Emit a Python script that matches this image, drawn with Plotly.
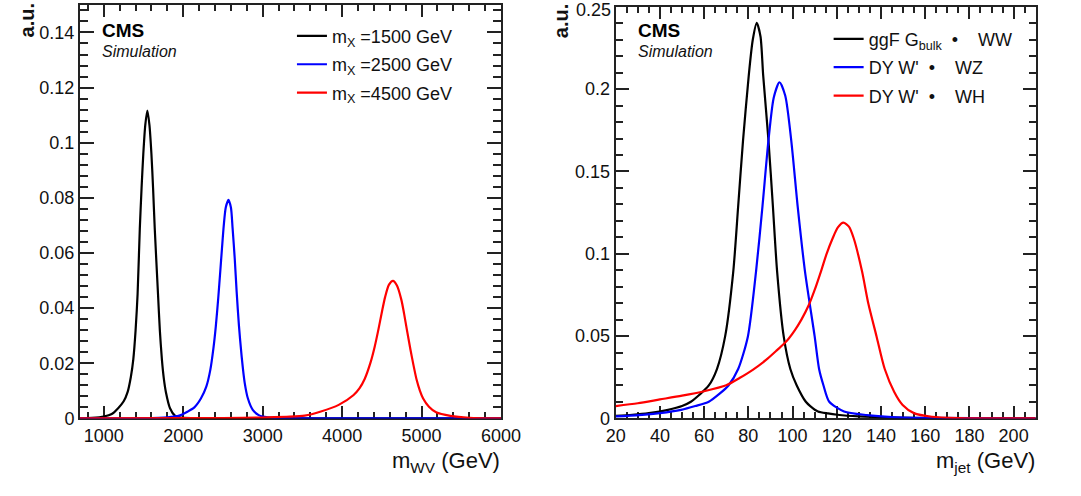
import plotly.graph_objects as go

# ---------------- Left panel: m_WV (GeV) ----------------
mwv_1500_x = [700, 850, 1000, 1100, 1180, 1250, 1300, 1340, 1371, 1400, 1425, 1453, 1475, 1497, 1522,
              1548, 1574, 1599, 1620, 1641, 1682, 1705, 1731, 1755, 1781, 1833, 1895, 1950, 2100, 2400, 6000]
mwv_1500_y = [0.0, 0.0002, 0.0007, 0.0016, 0.0037, 0.0062, 0.0096, 0.0150, 0.0214, 0.0320, 0.0451, 0.0689,
              0.0835, 0.0960, 0.1065, 0.1117, 0.1065, 0.0960, 0.0835, 0.0689, 0.0451, 0.0320, 0.0214,
              0.0145, 0.0096, 0.0037, 0.0010, 0.0004, 0.0001, 0.0, 0.0]

mwv_2500_x = [700, 1500, 1800, 1950, 2058, 2140, 2222, 2290, 2340, 2380, 2410, 2440, 2465, 2487, 2510, 2535,
              2569, 2600, 2621, 2648, 2672, 2700, 2735, 2773, 2814, 2875, 2950, 3000, 3150, 3400, 6000]
mwv_2500_y = [0.0, 0.0001, 0.0004, 0.0010, 0.0025, 0.0040, 0.0072, 0.0115, 0.0175, 0.0255, 0.0335, 0.0435,
              0.0530, 0.0615, 0.0700, 0.0765, 0.0793, 0.0765, 0.0690, 0.0580, 0.0460, 0.0340, 0.0225,
              0.0130, 0.0072, 0.0031, 0.0012, 0.0007, 0.0002, 0.0, 0.0]

mwv_4500_x = [700, 2000, 2500, 3000, 3300, 3529, 3733, 3957, 4141, 4220, 4284, 4358, 4410, 4456, 4500, 4541,
              4590, 4640, 4690, 4746, 4780, 4815, 4860, 4897, 4938, 4980, 5020, 5093, 5183, 5363, 5600, 6000]
mwv_4500_y = [0.0, 0.0001, 0.0001, 0.0003, 0.0006, 0.0010, 0.0025, 0.0049, 0.0084, 0.0110, 0.0143, 0.0203,
              0.0260, 0.0321, 0.0385, 0.0440, 0.0485, 0.0499, 0.0482, 0.0430, 0.0380, 0.0322, 0.0250,
              0.0195, 0.0140, 0.0100, 0.0072, 0.0042, 0.0022, 0.0009, 0.0002, 0.0]

# ---------------- Right panel: m_jet (GeV) ----------------
mjet_ww_x = [20, 27.5, 35, 43.7, 50, 54, 58, 62.1, 65.8, 69.5, 73.2, 75.4, 77.6, 80.2, 82, 83.8, 85.5, 86.7,
             89.1, 91.1, 93, 96, 99, 101.9, 106, 108, 111.5, 116, 120.3, 130, 145, 160, 210]
mjet_ww_y = [0.0016, 0.0022, 0.0032, 0.0052, 0.0075, 0.0101, 0.0145, 0.0200, 0.0300, 0.0498, 0.0895, 0.1290,
             0.1689, 0.2085, 0.2300, 0.2403, 0.2320, 0.2085, 0.1689, 0.1290, 0.0895, 0.0498, 0.0300,
             0.0200, 0.0101, 0.0075, 0.0042, 0.0030, 0.0022, 0.0012, 0.0005, 0.0002, 0.0]

mjet_wz_x = [20, 30.5, 40, 49.6, 56, 62.1, 67, 71, 75.4, 79.8, 83.5, 86.4, 89.1, 91.5, 94.1, 96.7, 99.4,
             102.3, 105.6, 110, 112, 114, 116.6, 123.3, 133.6, 145, 160, 210]
mjet_wz_y = [0.0012, 0.0020, 0.0032, 0.0052, 0.0075, 0.0101, 0.0150, 0.0200, 0.0300, 0.0498, 0.0895, 0.1290,
             0.1689, 0.1950, 0.2042, 0.1960, 0.1689, 0.1290, 0.0895, 0.0498, 0.0300, 0.0200, 0.0101,
             0.0042, 0.0020, 0.0008, 0.0003, 0.0]

mjet_wh_x = [20, 30, 40, 50, 60, 70, 76, 82, 88, 93, 97, 101, 104, 107.4, 110, 112.9, 115.4, 118.1, 120.5,
             123, 125.5, 127.7, 131.4, 134.3, 138, 141.7, 146, 149.8, 154.9, 163, 175, 210]
mjet_wh_y = [0.0075, 0.0092, 0.0115, 0.0138, 0.0165, 0.0201, 0.0245, 0.0295, 0.0355, 0.0415, 0.0465, 0.0535,
             0.0600, 0.0690, 0.0780, 0.0895, 0.1000, 0.1093, 0.1160, 0.1189, 0.1165, 0.1093, 0.0895,
             0.0696, 0.0498, 0.0300, 0.0161, 0.0082, 0.0032, 0.0010, 0.0002, 0.0]

# right-panel y tick values/labels (the top label sits at the page edge, drawn as annotation)
mjet_yticks = [0, 0.05, 0.1, 0.15, 0.2, 0.25]
mjet_yticklabels = ["0", "0.05", "0.1", "0.15", "0.2", "0.25"]

left_names = ["m<sub>X</sub> =1500 GeV", "m<sub>X</sub> =2500 GeV", "m<sub>X</sub> =4500 GeV"]
right_names = ["ggF G<sub>bulk</sub>\u00a0\u00a0•\u00a0\u00a0\u00a0\u00a0WW",
               "DY W'\u00a0\u00a0•\u00a0\u00a0\u00a0\u00a0WZ",
               "DY W'\u00a0\u00a0•\u00a0\u00a0\u00a0\u00a0WH"]
colors = ["#000000", "#0000ff", "#ff0000"]

FONT = "Liberation Sans, Arial, Helvetica, sans-serif"
W, H = 1081, 496

fig = go.Figure()
left_series = [(mwv_1500_x, mwv_1500_y), (mwv_2500_x, mwv_2500_y), (mwv_4500_x, mwv_4500_y)]
right_series = [(mjet_ww_x, mjet_ww_y), (mjet_wz_x, mjet_wz_y), (mjet_wh_x, mjet_wh_y)]
for (xs, ys), name, c in zip(left_series, left_names, colors):
    fig.add_trace(go.Scatter(x=xs, y=ys, mode="lines", name=name, xaxis="x", yaxis="y",
                             line=dict(color=c, width=2.2, shape="spline", smoothing=0.7),
                             legend="legend", legendgroup=name))
for (xs, ys), name, c in zip(right_series, right_names, colors):
    fig.add_trace(go.Scatter(x=xs, y=ys, mode="lines", name=name, xaxis="x2", yaxis="y2",
                             line=dict(color=c, width=2.2, shape="spline", smoothing=0.7),
                             legend="legend2", legendgroup=name))


def px_x(p):
    return p / W


def px_y(p):
    return 1 - p / H


def axis(domain, rng, dtick, minor_dtick, ticklen, minor_len, anchor):
    return dict(domain=domain, range=rng, dtick=dtick, tick0=0, showgrid=False, zeroline=False,
                showline=True, linecolor="#222222", linewidth=2, mirror="ticks", ticks="inside",
                ticklen=ticklen, tickwidth=1.5, tickcolor="#222222", anchor=anchor,
                layer="below traces",
                tickfont=dict(family=FONT, size=18, color="#111111"),
                minor=dict(dtick=minor_dtick, ticks="inside", ticklen=minor_len, tickwidth=1.5,
                           tickcolor="#222222", showgrid=False))


yaxis2 = axis([px_y(427), px_y(7)], [0, 0.25], 0.05, 0.01, 13, 7, "x2")
yaxis2.update(tickmode="array", tickvals=mjet_yticks,
              ticktext=mjet_yticklabels[:-1] + [""])

fig.update_layout(
    width=W, height=H, margin=dict(l=0, r=0, t=0, b=0),
    paper_bgcolor="white", plot_bgcolor="white",
    font=dict(family=FONT, size=18, color="#111111"),
    xaxis=axis([px_x(72), px_x(505)], [700, 6000], 1000, 200, 12, 6, "y"),
    yaxis=axis([px_y(427), px_y(5)], [0, 0.15], 0.02, 0.004, 14, 8, "x"),
    xaxis2=axis([px_x(623), px_x(1055)], [20, 210], 20, 5, 12, 6, "y2"),
    yaxis2=yaxis2,
    legend=dict(x=px_x(290), y=px_y(18), xanchor="left", yanchor="top",
                bgcolor="rgba(0,0,0,0)", font=dict(family=FONT, size=18, color="#111111"),
                tracegroupgap=2, itemwidth=30),
    legend2=dict(x=px_x(842), y=px_y(21), xanchor="left", yanchor="top",
                 bgcolor="rgba(0,0,0,0)", font=dict(family=FONT, size=18, color="#111111"),
                 tracegroupgap=2, itemwidth=30),
    showlegend=True,
)

ann = []
for x0 in (72, 623):
    ann.append(dict(text="<b>CMS</b>", x=px_x(x0 + 21), y=px_y(31), xref="paper", yref="paper",
                    xanchor="left", yanchor="middle", showarrow=False,
                    font=dict(family=FONT, size=19, color="#000000")))
    ann.append(dict(text="<i>Simulation</i>", x=px_x(x0 + 21), y=px_y(53), xref="paper", yref="paper",
                    xanchor="left", yanchor="middle", showarrow=False,
                    font=dict(family=FONT, size=16, color="#111111")))
for xc in (17, 567):
    ann.append(dict(text="<b>a.u.</b>", x=px_x(xc), y=px_y(2), xref="paper", yref="paper",
                    xanchor="center", yanchor="top", textangle=-90, showarrow=False,
                    font=dict(family=FONT, size=20, color="#111111")))
# top tick label of the right panel
ann.append(dict(text=mjet_yticklabels[-1], x=px_x(620), y=mjet_yticks[-1], xref="paper", yref="y2",
                xanchor="right", yanchor="middle", showarrow=False, yshift=-3,
                font=dict(family=FONT, size=18, color="#111111")))
ann.append(dict(text="m<sub>WV</sub> (GeV)", x=px_x(506), y=px_y(472), xref="paper", yref="paper",
                xanchor="right", yanchor="middle", showarrow=False,
                font=dict(family=FONT, size=22, color="#111111")))
ann.append(dict(text="m<sub>jet</sub> (GeV)", x=px_x(1056), y=px_y(472), xref="paper", yref="paper",
                xanchor="right", yanchor="middle", showarrow=False,
                font=dict(family=FONT, size=22, color="#111111")))
fig.update_layout(annotations=ann)

fig.write_html("out.html")
